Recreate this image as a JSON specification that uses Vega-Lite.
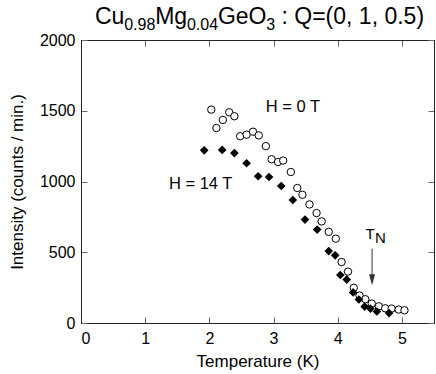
{
  "$schema": "https://vega.github.io/schema/vega-lite/v6.json",
  "width": 353,
  "height": 283,
  "autosize": {"type": "none"},
  "padding": {"left": 81, "top": 40, "right": 2, "bottom": 51},
  "config": {
    "font": "Liberation Sans",
    "view": {"stroke": "#222", "strokeWidth": 1},
    "axis": {
      "grid": false,
      "tickSize": -6,
      "tickColor": "#666",
      "tickWidth": 1,
      "domainColor": "#222",
      "labelFontSize": 16,
      "titleFontSize": 17,
      "titleFontWeight": "normal",
      "labelColor": "#000",
      "titleColor": "#000",
      "labelFont": "Liberation Sans",
      "titleFont": "Liberation Sans"
    }
  },
  "datasets": {
    "h0": [
      {"T": 2.03, "I": 1508}, {"T": 2.11, "I": 1378}, {"T": 2.21, "I": 1435}, {"T": 2.31, "I": 1489},
      {"T": 2.39, "I": 1461}, {"T": 2.48, "I": 1320}, {"T": 2.58, "I": 1331}, {"T": 2.68, "I": 1352},
      {"T": 2.77, "I": 1326}, {"T": 2.88, "I": 1250}, {"T": 2.97, "I": 1157}, {"T": 3.07, "I": 1138},
      {"T": 3.15, "I": 1148}, {"T": 3.27, "I": 1067}, {"T": 3.37, "I": 954}, {"T": 3.45, "I": 906},
      {"T": 3.56, "I": 838}, {"T": 3.67, "I": 777}, {"T": 3.75, "I": 718}, {"T": 3.86, "I": 644},
      {"T": 3.97, "I": 596}, {"T": 4.06, "I": 431}, {"T": 4.16, "I": 363}, {"T": 4.25, "I": 249},
      {"T": 4.34, "I": 194}, {"T": 4.43, "I": 168}, {"T": 4.53, "I": 137}, {"T": 4.64, "I": 118},
      {"T": 4.74, "I": 104}, {"T": 4.84, "I": 102}, {"T": 4.95, "I": 95}, {"T": 5.04, "I": 90}
    ],
    "h14": [
      {"T": 1.92, "I": 1220}, {"T": 2.20, "I": 1223}, {"T": 2.39, "I": 1201}, {"T": 2.58, "I": 1129},
      {"T": 2.76, "I": 1037}, {"T": 2.93, "I": 1032}, {"T": 3.12, "I": 968}, {"T": 3.30, "I": 869},
      {"T": 3.49, "I": 731}, {"T": 3.68, "I": 660}, {"T": 3.86, "I": 508}, {"T": 3.96, "I": 478},
      {"T": 4.04, "I": 339}, {"T": 4.14, "I": 307}, {"T": 4.24, "I": 216}, {"T": 4.33, "I": 166},
      {"T": 4.42, "I": 116}, {"T": 4.51, "I": 102}, {"T": 4.61, "I": 81}, {"T": 4.80, "I": 70}
    ]
  },
  "resolve": {"axis": {"x": "independent", "y": "independent"}},
  "layer": [
    {
      "data": {"name": "h0"},
      "mark": {"type": "point", "shape": "circle", "filled": true, "fill": "white", "stroke": "black", "strokeWidth": 1, "size": 55, "opacity": 1},
      "encoding": {
        "x": {"field": "T", "type": "quantitative", "scale": {"domain": [0, 5.5], "nice": false},
              "axis": {"values": [0, 1, 2, 3, 4, 5], "title": "Temperature (K)", "labelPadding": 13, "titlePadding": 7}},
        "y": {"field": "I", "type": "quantitative", "scale": {"domain": [0, 2000], "nice": false},
              "axis": {"values": [0, 500, 1000, 1500, 2000], "format": "d", "title": "Intensity (counts / min.)", "labelPadding": 12, "titlePadding": 13}}
      }
    },
    {
      "data": {"name": "h14"},
      "mark": {"type": "point", "shape": "diamond", "filled": true, "fill": "black", "stroke": null, "size": 75, "opacity": 1},
      "encoding": {
        "x": {"field": "T", "type": "quantitative", "axis": null},
        "y": {"field": "I", "type": "quantitative", "axis": null}
      }
    },
    {
      "data": {"values": [{}]},
      "mark": {"type": "text", "text": "H = 0 T", "fontSize": 16.5, "align": "left", "baseline": "alphabetic", "color": "black"},
      "encoding": {
        "x": {"datum": 2.88, "type": "quantitative", "axis": {"orient": "top", "values": [0, 1, 2, 3, 4, 5], "labels": false, "title": null}},
        "y": {"datum": 1489, "type": "quantitative", "axis": {"orient": "right", "values": [0, 500, 1000, 1500, 2000], "labels": false, "title": null}}
      }
    },
    {
      "data": {"values": [{}]},
      "mark": {"type": "text", "text": "H = 14 T", "fontSize": 16.5, "align": "left", "baseline": "alphabetic", "color": "black"},
      "encoding": {
        "x": {"datum": 1.37, "type": "quantitative", "axis": null},
        "y": {"datum": 950, "type": "quantitative", "axis": null}
      }
    },
    {
      "data": {"values": [{}]},
      "mark": {"type": "text", "text": "T", "fontSize": 15, "align": "left", "baseline": "alphabetic", "color": "black"},
      "encoding": {
        "x": {"datum": 4.434, "type": "quantitative", "axis": null},
        "y": {"datum": 596, "type": "quantitative", "axis": null}
      }
    },
    {
      "data": {"values": [{}]},
      "mark": {"type": "text", "text": "N", "fontSize": 15, "align": "left", "baseline": "alphabetic", "color": "black"},
      "encoding": {
        "x": {"datum": 4.58, "type": "quantitative", "axis": null},
        "y": {"datum": 563, "type": "quantitative", "axis": null}
      }
    },
    {
      "data": {"values": [{}]},
      "mark": {"type": "rule", "color": "#333", "strokeWidth": 1},
      "encoding": {
        "x": {"datum": 4.535, "type": "quantitative", "axis": null},
        "y": {"datum": 526, "type": "quantitative", "axis": null},
        "y2": {"datum": 305}
      }
    },
    {
      "data": {"values": [{}]},
      "mark": {"type": "point", "shape": "M-0.55,-1L0.55,-1L0,1Z", "filled": true, "fill": "#333", "stroke": null, "size": 121, "opacity": 1},
      "encoding": {
        "x": {"datum": 4.535, "type": "quantitative", "axis": null},
        "y": {"datum": 305, "type": "quantitative", "axis": null}
      }
    },
    {
      "data": {"values": [{}]},
      "mark": {"type": "text", "text": "Cu", "fontSize": 23, "align": "left", "baseline": "alphabetic", "color": "black"},
      "encoding": {"x": {"datum": 0.217, "type": "quantitative", "axis": null}, "y": {"datum": 2111, "type": "quantitative", "axis": null}}
    },
    {
      "data": {"values": [{}]},
      "mark": {"type": "text", "text": "0.98", "fontSize": 16, "align": "left", "baseline": "alphabetic", "color": "black"},
      "encoding": {"x": {"datum": 0.673, "type": "quantitative", "axis": null}, "y": {"datum": 2072, "type": "quantitative", "axis": null}}
    },
    {
      "data": {"values": [{}]},
      "mark": {"type": "text", "text": "Mg", "fontSize": 23, "align": "left", "baseline": "alphabetic", "color": "black"},
      "encoding": {"x": {"datum": 1.156, "type": "quantitative", "axis": null}, "y": {"datum": 2111, "type": "quantitative", "axis": null}}
    },
    {
      "data": {"values": [{}]},
      "mark": {"type": "text", "text": "0.04", "fontSize": 16, "align": "left", "baseline": "alphabetic", "color": "black"},
      "encoding": {"x": {"datum": 1.651, "type": "quantitative", "axis": null}, "y": {"datum": 2072, "type": "quantitative", "axis": null}}
    },
    {
      "data": {"values": [{}]},
      "mark": {"type": "text", "text": "GeO", "fontSize": 23, "align": "left", "baseline": "alphabetic", "color": "black"},
      "encoding": {"x": {"datum": 2.133, "type": "quantitative", "axis": null}, "y": {"datum": 2111, "type": "quantitative", "axis": null}}
    },
    {
      "data": {"values": [{}]},
      "mark": {"type": "text", "text": "3", "fontSize": 16, "align": "left", "baseline": "alphabetic", "color": "black"},
      "encoding": {"x": {"datum": 2.887, "type": "quantitative", "axis": null}, "y": {"datum": 2072, "type": "quantitative", "axis": null}}
    },
    {
      "data": {"values": [{}]},
      "mark": {"type": "text", "text": ": Q=(0, 1, 0.5)", "fontSize": 23, "align": "left", "baseline": "alphabetic", "color": "black"},
      "encoding": {"x": {"datum": 3.124, "type": "quantitative", "axis": null}, "y": {"datum": 2111, "type": "quantitative", "axis": null}}
    }
  ]
}
